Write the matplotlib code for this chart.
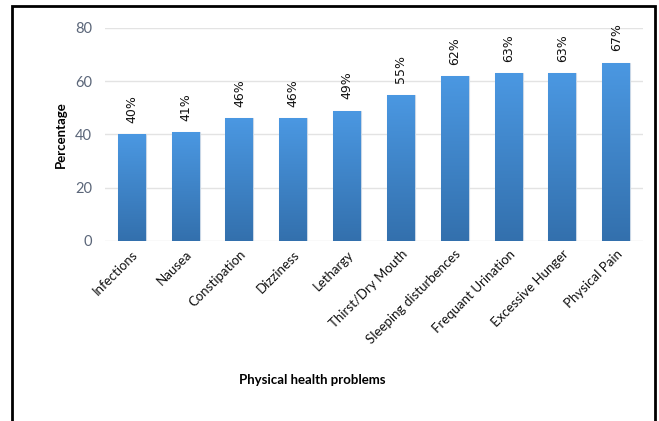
import numpy as np
import matplotlib
matplotlib.use("Agg")
import matplotlib.pyplot as plt
from matplotlib.colors import LinearSegmentedColormap
from matplotlib.patches import Rectangle

categories = ["Infections", "Nausea", "Constipation", "Dizziness", "Lethargy",
              "Thirst/Dry Mouth", "Sleeping disturbences", "Frequant Urination",
              "Excessive Hunger", "Physical Pain"]
values = [40, 41, 46, 46, 49, 55, 62, 63, 63, 67]
yticks = [0, 20, 40, 60, 80]

fig = plt.figure(figsize=(6.59, 4.21), dpi=100)
ax = fig.add_axes([0.159, 0.4276, 0.817, 0.506])

x = np.arange(len(categories))
width = 0.52
bars = ax.bar(x, values, width=width, color="none", edgecolor="#c9d7e6",
              linewidth=0.8, zorder=3)

# vertical gradient fill for each bar: light blue at top, darker at bottom
cmap = LinearSegmentedColormap.from_list("bar", ["#3370ad", "#4b98e2"])
grad = np.linspace(0, 1, 256).reshape(-1, 1)
for b in bars:
    bx, by = b.get_x(), b.get_y()
    bw, bh = b.get_width(), b.get_height()
    im = ax.imshow(grad, extent=[bx, bx + bw, by, by + bh], origin="lower",
                   cmap=cmap, aspect="auto", zorder=4)
    im.set_clip_path(b)

for xi, v in zip(x, values):
    ax.annotate(f"{v}%", (xi, v), xytext=(0, 8), textcoords="offset points",
                rotation=90, ha="center", va="bottom", fontsize=9,
                color="#111111", family="DejaVu Sans")

ax.set_xlim(-0.5, len(categories) - 0.5)
ax.set_ylim(0, 80)
ax.set_yticks(yticks)
ax.tick_params(axis="y", length=0, pad=9, labelsize=10.5, labelcolor="#5b6679")
ax.tick_params(axis="x", length=0, pad=5)
for lab in ax.get_yticklabels():
    lab.set_family("Lato")
ax.set_xticks(x)
ax.set_xticklabels(categories, rotation=45, ha="right", rotation_mode="anchor",
                   fontsize=9.5, family="Lato", color="#111111")
ax.grid(axis="y", color="#e3e3e3", linewidth=1, zorder=0)
ax.set_axisbelow(True)
for s in ax.spines.values():
    s.set_visible(False)

ax.set_ylabel("Percentage", fontsize=9.5, fontweight="bold", family="Lato",
              labelpad=6)
fig.text(0.474, 0.097, "Physical health problems", ha="center", va="center",
         fontsize=9.5, fontweight="bold", family="Lato")

# outer frame around the chart
fig.patches.append(Rectangle((12 / 659, -0.05), (655 - 12) / 659, 1.05 - 6 / 421,
                             transform=fig.transFigure, fill=False,
                             edgecolor="black", linewidth=2, clip_on=False))

fig.savefig("out.png", dpi=100, facecolor="white")
